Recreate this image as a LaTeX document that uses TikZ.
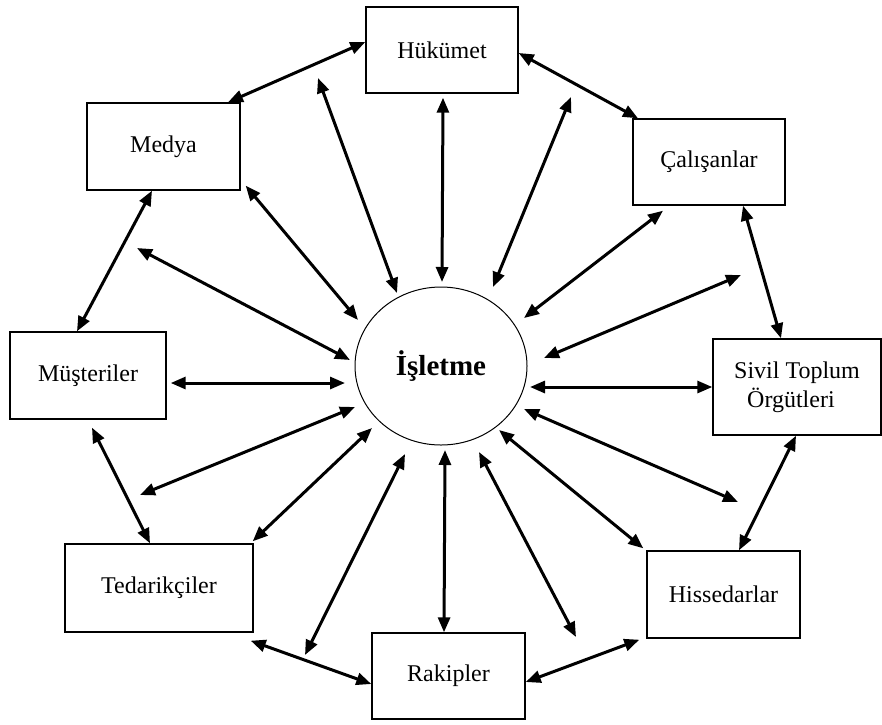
\documentclass[tikz,border=0pt]{standalone}
\usepackage{fontspec}
\setmainfont{Liberation Serif}
\usetikzlibrary{arrows.meta,shapes.geometric,calc}
\begin{document}
\begin{tikzpicture}[x=1pt,y=-1pt,
  box/.style={draw,line width=1.4pt,rectangle,inner sep=0pt,font=\fontsize{24}{29}\selectfont},
  arr/.style={{Triangle[length=15pt,width=12pt]}-{Triangle[length=15pt,width=12pt]},line width=3pt},
  hub/.style={draw,ellipse,line width=1pt,minimum width=172pt,minimum height=158pt,inner sep=0pt,font=\fontsize{29}{32}\selectfont\bfseries}]
\useasboundingbox (0,0) rectangle (882,724);
\fill[white] (0,0) rectangle (882,724);
% boxes
\node[box,minimum width=152pt,minimum height=86pt] (Hukumet) at (442,50) {Hükümet};
\node[box,minimum width=153pt,minimum height=87pt] (Medya) at (163.5,146.5) {Medya};
\node[box,minimum width=152pt,minimum height=86pt] (Calisanlar) at (709,162) {Çalışanlar};
\node[box,minimum width=156pt,minimum height=87pt] (Musteriler) at (88,375.5) {Müşteriler};
\node[box,minimum width=168pt,minimum height=96pt,align=left] (Sivil) at (797,387) {Sivil Toplum\\\hspace*{13pt}Örgütleri};
\node[box,minimum width=188pt,minimum height=88pt] (Tedarikciler) at (159,588) {Tedarikçiler};
\node[box,minimum width=153pt,minimum height=87pt] (Hissedarlar) at (723.5,594.5) {Hissedarlar};
\node[box,minimum width=153pt,minimum height=86pt] (Rakipler) at (448.5,676) {Rakipler};
\node[hub] (C) at (441,366) {İşletme};
% free ends
\coordinate (r1) at (318,78);
\coordinate (r3) at (137,248);
\coordinate (r5) at (140,495);
\coordinate (r7) at (305,655);
\coordinate (r9) at (576,637);
\coordinate (r11) at (738,502);
\coordinate (r13) at (741,275);
\coordinate (r15) at (571,97);
% ring arrows
\draw[arr] (228,0 |- Medya.north) -- (Hukumet.west |- 0,42);
\draw[arr] (Hukumet.east |- 0,53) -- (638,0 |- Calisanlar.north);
\draw[arr] (743,0 |- Calisanlar.south) -- (781,0 |- Sivil.north);
\draw[arr] (796,0 |- Sivil.south) -- (739,0 |- Hissedarlar.north);
\draw[arr] ($(Hissedarlar.south west)+(-7,1)$) -- (Rakipler.east |- 0,682);
\draw[arr] (Rakipler.west |- 0,684) -- ($(Tedarikciler.south east)+(-3,8)$);
\draw[arr] (150,0 |- Tedarikciler.north) -- ($(92,0 |- Musteriler.south)+(0,8)$);
\draw[arr] (77,0 |- Musteriler.north) -- (152,0 |- Medya.south);
% radial arrows
\draw[arr] (r1) -- ($(C.center)+(-44,-73)$);
\draw[arr] ($(Medya.south east)+(5,-5)$) -- ($(C.center)+(-83,-46)$);
\draw[arr] (r3) -- ($(C.center)+(-91,-6)$);
\draw[arr] ($(Musteriler.east |- 0,383)+(4,0)$) -- ($(C.center)+(-96,17)$);
\draw[arr] (r5) -- ($(C.center)+(-86,41)$);
\draw[arr] ($(Tedarikciler.north east)+(-1,-2)$) -- ($(C.center)+(-69,62)$);
\draw[arr] (r7) -- ($(C.center)+(-36,88)$);
\draw[arr] (444,0 |- Rakipler.north) -- ($(C.center)+(4,84)$);
\draw[arr] (r9) -- ($(C.center)+(38,86)$);
\draw[arr] ($(Hissedarlar.north west)+(-3,-2)$) -- ($(C.center)+(58,64)$);
\draw[arr] (r11) -- ($(C.center)+(83,43)$);
\draw[arr] (Sivil.west |- 0,387) -- ($(C.center)+(89,21)$);
\draw[arr] (r13) -- ($(C.center)+(103,-8)$);
\draw[arr] ($(663,0 |- Calisanlar.south)+(0,5)$) -- ($(C.center)+(83,-48)$);
\draw[arr] (r15) -- ($(C.center)+(52,-79)$);
\draw[arr] ($(443,0 |- Hukumet.south)+(0,4)$) -- ($(C.center)+(1,-84)$);
\end{tikzpicture}
\end{document}
